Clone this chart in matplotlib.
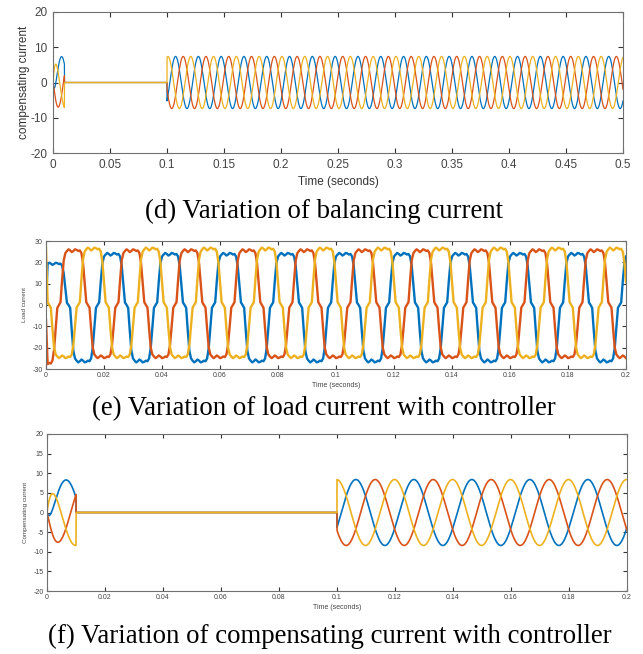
import numpy as np
import matplotlib
matplotlib.use('Agg')
import matplotlib.pyplot as plt

plt.rcParams['axes.unicode_minus'] = False
plt.rcParams['font.family'] = ['Liberation Sans', 'DejaVu Sans']

# MATLAB default line colours
BLUE, RED, YELLOW = '#0072BD', '#D95319', '#EDB120'
COLORS = [BLUE, RED, YELLOW]

FREQ = 50.0                      # Hz
PHASE_SHIFT_DEG = [0, -120, 120]  # blue, red, yellow
START_TAU = 0.0015               # start-up rise time of compensator (s)

# (d) balancing current
D_AMP = 7.4
D_PHASE_DEG = -45
D_ON = [(0.0, 0.01), (0.1, 0.5)]
D_TEND = 0.5
D_XTICKS = [0, 0.05, 0.1, 0.15, 0.2, 0.25, 0.3, 0.35, 0.4, 0.45, 0.5]
D_XLABELS = ['0', '0.05', '0.1', '0.15', '0.2', '0.25', '0.3', '0.35', '0.4', '0.45', '0.5']
D_YTICKS = [-20, -10, 0, 10, 20]

# (e) load current, one half cycle read at 10 degree steps (normalised)
LOAD_HALF = [0.0, 0.05, 0.45, 0.80, 0.93, 0.97, 1.00, 0.98, 0.95,
             0.97, 1.00, 0.99, 0.97, 0.98, 0.93, 0.75, 0.40, 0.05]
LOAD_TOP = [24.4, 26.1, 26.9]       # positive plateau, blue/red/yellow
LOAD_BOTTOM = [26.9, 24.9, 24.9]    # negative plateau (magnitude)
LOAD_OFFSET_STEPS = [4, 28, 16]     # phase of each trace at t=0, in 10 deg steps
LOAD_START = [0.0, -7.0, 27.0]      # values at t = 0
LOAD_FIRST_LEVEL = [19.8, -28.0, 27.5]  # first half-wave level (start-up)
LOAD_FIRST_LEN = [14, 8, 2]
LOAD_TEND = 0.2
E_YTICKS = [-30, -20, -10, 0, 10, 20, 30]

# (f) compensating current with controller
F_AMP = 8.4
F_PHASE_DEG = -27
F_ON = [(0.0, 0.01), (0.1, 0.2)]
F_TEND = 0.2
F_YTICKS = [-20, -15, -10, -5, 0, 5, 10, 15, 20]

FG_XTICKS = [0, 0.02, 0.04, 0.06, 0.08, 0.1, 0.12, 0.14, 0.16, 0.18, 0.2]
FG_XLABELS = ['0', '0.02', '0.04', '0.06', '0.08', '0.1', '0.12', '0.14', '0.16', '0.18', '0.2']

CAPTIONS = ['(d) Variation of balancing current',
            '(e) Variation of load current with controller',
            '(f) Variation of compensating current with controller']


def comp_current(t, amp, phase_deg, on, shift):
    y = amp * np.sin(2 * np.pi * FREQ * t + np.deg2rad(phase_deg + shift))
    y = y * (1 - np.exp(-t / START_TAU))
    mask = np.zeros_like(t, dtype=bool)
    for a, b in on:
        mask |= (t >= a) & (t <= b)
    y[~mask] = 0
    return y


def load_current(i):
    steps_per_cycle = 2 * len(LOAD_HALF)
    dt = 1 / FREQ / steps_per_cycle
    k = np.arange(int(round(LOAD_TEND / dt)) + 1)
    cycle = np.array(LOAD_HALF + [-v for v in LOAD_HALF])
    v = cycle[(k + LOAD_OFFSET_STEPS[i]) % steps_per_cycle]
    y = np.where(v >= 0, v * LOAD_TOP[i], v * LOAD_BOTTOM[i])
    n = LOAD_FIRST_LEN[i]
    y[:n] = np.abs(v[:n]) * LOAD_FIRST_LEVEL[i]
    y[0] = LOAD_START[i]
    return k * dt, y


W, H = 643, 654
fig = plt.figure(figsize=(W / 100, H / 100), dpi=100)


def px_axes(x0, y0, x1, y1):
    return fig.add_axes([x0 / W, 1 - y1 / H, (x1 - x0) / W, (y1 - y0) / H])


def style(ax, fs, ticklen, pad):
    for s in ax.spines.values():
        s.set_color('#707070')
        s.set_linewidth(0.8)
    ax.tick_params(direction='in', top=True, right=True, length=ticklen,
                   width=0.8, color='#333333', labelcolor='#444444',
                   labelsize=fs, pad=pad)


# (d)
ax = px_axes(53, 12, 623, 153)
t = np.linspace(0, D_TEND, 20001)
for c, sh in zip(COLORS, PHASE_SHIFT_DEG):
    ax.plot(t, comp_current(t, D_AMP, D_PHASE_DEG, D_ON, sh), color=c, lw=0.9)
ax.set_xlim(0, D_TEND)
ax.set_ylim(-20, 20)
ax.set_xticks(D_XTICKS, D_XLABELS)
ax.set_yticks(D_YTICKS)
style(ax, 8.5, 3.5, 4)
ax.set_xlabel('Time (seconds)', fontsize=8.5, color='#333333', labelpad=4)
ax.set_ylabel('compensating current', fontsize=8.5, color='#333333', labelpad=0)

# (e)
ax = px_axes(46, 241, 626, 369)
for i, c in enumerate(COLORS):
    te, ye = load_current(i)
    ax.plot(te, ye, color=c, lw=1.7)
ax.set_xlim(0, LOAD_TEND)
ax.set_ylim(-30, 30)
ax.set_xticks(FG_XTICKS, FG_XLABELS)
ax.set_yticks(E_YTICKS)
style(ax, 5, 2.8, 2.5)
ax.set_xlabel('Time (seconds)', fontsize=5, color='#444444', labelpad=1.5)
ax.set_ylabel('Load current', fontsize=4.5, color='#444444', labelpad=4)

# (f)
ax = px_axes(47, 434, 627, 591)
t = np.linspace(0, F_TEND, 20001)
for c, sh in zip(COLORS, PHASE_SHIFT_DEG):
    ax.plot(t, comp_current(t, F_AMP, F_PHASE_DEG, F_ON, sh), color=c, lw=1.2)
ax.set_xlim(0, F_TEND)
ax.set_ylim(-20, 20)
ax.set_xticks(FG_XTICKS, FG_XLABELS)
ax.set_yticks(F_YTICKS)
style(ax, 5, 2.8, 2.5)
ax.set_xlabel('Time (seconds)', fontsize=5, color='#444444', labelpad=1.5)
ax.set_ylabel('Compensating current', fontsize=4.5, color='#444444', labelpad=4)

# captions
for txt, yc, xc in zip(CAPTIONS, [211, 409, 636], [324, 324, 330]):
    fig.text(xc / W, 1 - yc / H, txt, ha='center', va='center',
             family='Liberation Serif', fontsize=19.3, color='black')

fig.savefig('out.png', dpi=100)
